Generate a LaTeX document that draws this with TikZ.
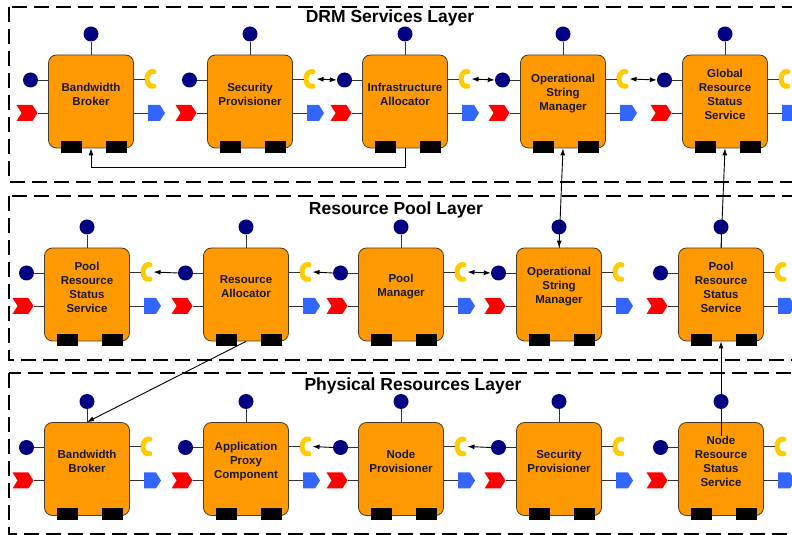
\documentclass[tikz,border=0pt]{standalone}
\usepackage{fontspec}
\setmainfont{Liberation Sans}
\usepackage{tikz}
\usetikzlibrary{calc, arrows.meta, shapes.symbols, positioning}
\definecolor{cOrange}{HTML}{FF9900}
\definecolor{cNavy}{HTML}{000080}
\definecolor{cRed}{HTML}{FF0000}
\definecolor{cYellow}{HTML}{FFCC00}
\definecolor{cBlue}{HTML}{3366FF}
\definecolor{cEdge}{HTML}{4D3B26}

% one component: name, x, y of the body centre, label
\newcommand{\drmunit}[4]{%
	\draw (#2,#3) node[unit] (#1) {};
	\draw (#2,#3+7.5) node[unittext] (#1-t) {#4};
	\draw (#2,#3+67.5) node[ball] (#1-top) {};
	\draw (#2-60.5,#3+21.5) node[ball] (#1-in) {};
	\draw (#2-64,#3-11.5) node[evsink] (#1-ev) {};
	\draw (#2+63,#3-11.5) node[evsrc] (#1-out) {};
	\draw (#2-19.5,#3-45.5) node[slot] (#1-s1) {};
	\draw (#2+25,#3-45.5) node[slot] (#1-s2) {};
	\coordinate (#1-cl) at (#2+53.5,#3+22.5);
	\coordinate (#1-co) at (#2+66.5,#3+22.5);
	\draw[recept] (#2+61.5,#3+22.5) ++(75:5.5 and 7.5) arc[start angle=75, end angle=285, x radius=5.5, y radius=7.5];
	\draw[stub] (#1-top.south) -- (#1.north);
	\draw[stub] (#1-in.east) -- (#1-in -| #1.west);
	\draw[stub] (#1-ev.east) -- (#1-ev -| #1.west);
	\draw[stub] (#1.east |- #1-cl) -- (#1-cl);
	\draw[stub] (#1.east |- #1-out) -- (#1-out.west);
}

\begin{document}
\begin{tikzpicture}
		[x=1pt, y=1pt, >={Latex[length=7pt,width=5pt]},
		unit/.style ={rectangle, draw=cEdge, line width=0.8pt, fill=cOrange, rounded corners=8pt, minimum width=85pt, minimum height=93pt},
		unittext/.style ={align=center, inner sep=0pt, text=black!90, font=\fontsize{11.5}{14}\selectfont\bfseries},
		ball/.style ={circle, fill=cNavy, minimum size=15pt, inner sep=0pt},
		evsink/.style ={signal, signal to=east, signal from=west, signal pointer angle=115, fill=cRed, minimum width=21pt, minimum height=16pt, inner sep=0pt},
		evsrc/.style ={signal, signal to=east, signal pointer angle=115, fill=cBlue, minimum width=17pt, minimum height=16pt, inner sep=0pt},
		recept/.style ={draw=cYellow, line width=5pt, line cap=round},
		slot/.style ={rectangle, fill=black, minimum width=21pt, minimum height=12pt, inner sep=0pt},
		stub/.style ={draw=black!80, line width=0.9pt},
		conn/.style ={draw=black, line width=0.9pt},
		layer/.style ={draw=black, dash pattern=on 15pt off 7pt, line width=1.8pt},
		title/.style ={font=\fontsize{17.5}{20}\selectfont\bfseries}]
		\useasboundingbox (0,0) rectangle (792,535);

		% layers
		\draw[layer] (9,528) rectangle (800,353);
		\draw[layer] (9,339) rectangle (800,175);
		\draw[layer] (9,162) rectangle (800,1);
		\node[title] (tDRM) at (390,517) {DRM Services Layer};
		\node[title] (tPool) at (396,325) {Resource Pool Layer};
		\node[title] (tPhys) at (413,149) {Physical Resources Layer};

		% DRM services
		\drmunit{dbb}{91}{433.5}{Bandwidth\\Broker}
		\drmunit{dsp}{250}{433.5}{Security\\Provisioner}
		\drmunit{dia}{405}{433.5}{Infrastructure\\Allocator}
		\drmunit{dosm}{563}{433.5}{Operational\\String\\Manager}
		\drmunit{dgrss}{725}{433.5}{Global\\Resource\\Status\\Service}

		% resource pool
		\drmunit{pprs}{87}{240.5}{Pool\\Resource\\Status\\Service}
		\drmunit{pra}{246}{240.5}{Resource\\Allocator}
		\drmunit{ppm}{401}{240.5}{Pool\\Manager}
		\drmunit{posm}{559}{240.5}{Operational\\String\\Manager}
		\drmunit{pprs2}{721}{240.5}{Pool\\Resource\\Status\\Service}

		% physical resources
		\drmunit{rbb}{87}{66}{Bandwidth\\Broker}
		\drmunit{rapc}{246}{66}{Application\\Proxy\\Component}
		\drmunit{rnp}{401}{66}{Node\\Provisioner}
		\drmunit{rsp}{559}{66}{Security\\Provisioner}
		\drmunit{rnrss}{721}{66}{Node\\Resource\\Status\\Service}

		% connectors in a layer
		\draw[conn, <->] (dsp-co) -- (dia-in.west);
		\draw[conn, <->] (dia-co) -- (dosm-in.west);
		\draw[conn, <->] (dosm-co) -- (dgrss-in.west);
		\draw[conn, ->] (dia.south) -- ++(0,-19) -| (dbb.south);
		\draw[conn, ->] (pra-in.west) -- (pprs-co);
		\draw[conn, ->] (ppm-in.west) -- (pra-co);
		\draw[conn, <->] (ppm-co) -- (posm-in.west);
		\draw[conn, ->] (rnp-in.west) -- (rapc-co);
		\draw[conn, ->] (rsp-in.west) -- (rnp-co);

		% connectors between layers
		\draw[conn, ->] (pra.south) -- (rbb.north);
		\draw[conn, <->] (posm.north) -- (dosm.south);
		\draw[conn, ->] (pprs2.north) -- (dgrss.south);
		\draw[conn, ->] (rnrss-t.north) -- (pprs2.south);

	\end{tikzpicture}
\end{document}
